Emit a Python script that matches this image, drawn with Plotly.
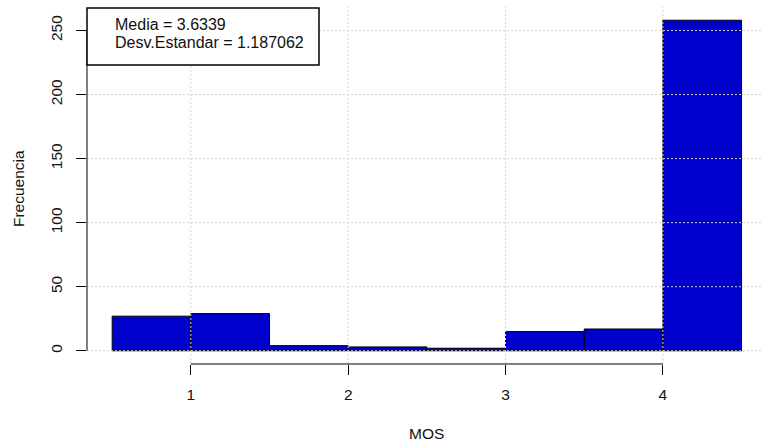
import plotly.graph_objects as go

# Histogram of MOS scores (bin edges and counts)
bin_edges = [0.5, 1.0, 1.5, 2.0, 2.5, 3.0, 3.5, 4.0, 4.5]
counts = [27, 29, 4, 3, 2, 15, 17, 258]
x_ticks = [1, 2, 3, 4]
y_ticks = [0, 50, 100, 150, 200, 250]
media = "3.6339"
desv = "1.187062"

centers = [(a + b) / 2 for a, b in zip(bin_edges[:-1], bin_edges[1:])]
widths = [b - a for a, b in zip(bin_edges[:-1], bin_edges[1:])]

FONT = "Liberation Sans, Arial, sans-serif"
FS = 15.5
GRID = dict(color="#D3D3D3", width=1, dash="2px,2px")

fig = go.Figure()
fig.add_trace(go.Bar(
    x=centers, y=counts, width=widths,
    marker=dict(color="#0000CD", line=dict(color="#000000", width=1)),
    hoverinfo="x+y",
))

ymax = max(counts)
pad = 0.04 * ymax
fig.update_layout(
    width=762, height=446,
    margin=dict(l=87, r=0, t=7, b=82),
    plot_bgcolor="white", paper_bgcolor="white",
    showlegend=False,
    font=dict(family=FONT, size=FS, color="#000000"),
    xaxis=dict(
        range=[bin_edges[0] - 0.04 * (bin_edges[-1] - bin_edges[0]), 4.63],
        tickvals=x_ticks, ticks="outside", ticklen=10, tickcolor="#000000",
        ticklabelstandoff=6, showgrid=False,
        zeroline=False, showline=False,
        tickfont=dict(size=FS, color="#111111"),
    ),
    yaxis=dict(
        range=[-pad, ymax + pad],
        tickvals=y_ticks, ticks="outside", ticklen=10, tickcolor="#000000",
        tickangle=-90, ticklabelstandoff=8, showgrid=False,
        zeroline=False, showline=False,
        tickfont=dict(size=FS, color="#111111"),
    ),
)

# Dotted grid drawn on top of the bars
for xv in x_ticks:
    fig.add_shape(type="line", xref="x", yref="paper", x0=xv, x1=xv,
                  y0=0, y1=1, line=GRID, layer="above")
for yv in y_ticks:
    fig.add_shape(type="line", xref="paper", yref="y", x0=0, x1=1,
                  y0=yv, y1=yv, line=GRID, layer="above")

# Axis lines spanning only the tick range
fig.add_shape(type="line", xref="x", yref="paper",
              x0=x_ticks[0], x1=x_ticks[-1], y0=0, y1=0,
              line=dict(color="#000000", width=1), layer="above")
fig.add_shape(type="line", xref="paper", yref="y",
              x0=0, x1=0, y0=y_ticks[0], y1=y_ticks[-1],
              line=dict(color="#000000", width=1), layer="above")

# Axis titles
fig.add_annotation(xref="paper", yref="paper", x=0.5037, y=0,
                   yanchor="middle", xanchor="center", yshift=-69,
                   text="MOS", showarrow=False,
                   font=dict(family=FONT, size=FS, color="#111111"))
fig.add_annotation(xref="paper", yref="paper", x=0, y=0.49,
                   xanchor="center", yanchor="middle", xshift=-69,
                   text="Frecuencia", textangle=-90, showarrow=False,
                   font=dict(family=FONT, size=FS, color="#111111"))

# Summary statistics box
fig.add_shape(type="rect", xref="paper", yref="paper",
              x0=0, x1=0.3437, y0=0.8375, y1=0.997,
              fillcolor="white", line=dict(color="#000000", width=1.5),
              layer="above")
for text, yp in [(f"Media = {media}", 0.9496),
                 (f"Desv.Estandar = {desv}", 0.8992)]:
    fig.add_annotation(
        xref="paper", yref="paper", x=0.0385, y=yp,
        xanchor="left", yanchor="middle",
        text=text, showarrow=False, align="left",
        font=dict(family=FONT, size=16, color="#111111"),
    )

fig.write_html("out.html")
